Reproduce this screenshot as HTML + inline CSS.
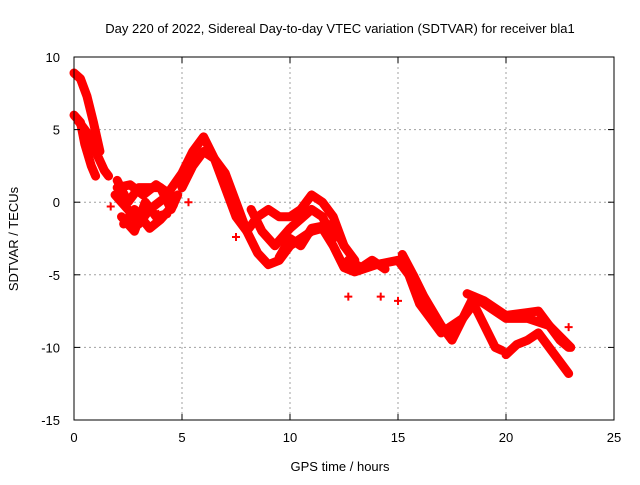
<!DOCTYPE html>
<html><head><meta charset="utf-8"><style>
body{margin:0;background:#fff;}
svg text{font-family:"Liberation Sans",sans-serif;font-size:13px;fill:#000;}
</style></head><body>
<svg width="640" height="480" id="chart">
<rect width="640" height="480" fill="#fff"/>
<text x="340" y="33" text-anchor="middle">Day 220 of 2022, Sidereal Day-to-day VTEC variation (SDTVAR) for receiver bla1</text>
<text x="340" y="471" text-anchor="middle">GPS time / hours</text>
<text transform="translate(18,239) rotate(-90)" text-anchor="middle">SDTVAR / TECUs</text>
<g id="grid"></g><g id="series"></g><g id="axes"></g>
</svg>
<script>
const xTicks=[0,5,10,15,20,25];
const yTicks=[-15,-10,-5,0,5,10];
const trackA=[[0,8.9],[0.3,8.5],[0.6,7.3],[0.9,5.5],[1.2,3.5]];
const trackB=[[0,6],[0.3,5.5],[0.5,4],[0.8,2.5],[1,1.8]];
const trackB2=[[0.2,5.6],[0.6,4.8],[1,3.5],[1.4,2.2],[1.6,1.8]];
const trackC1=[[1.9,0.5],[2.5,-0.5],[3,-1.5],[3.5,-0.5],[4.2,0.3],[5,2],[5.5,3.5],[6,4.5],[6.5,3],[7,2],[7.5,0],[8,-2],[8.5,-3.5],[9,-4.3],[9.5,-4],[10,-3],[10.5,-2.5],[11,-2],[11.5,-1.8],[12,-3],[12.5,-4.5],[13,-4.8],[14,-4.3],[15,-4],[15.5,-5],[16,-7],[16.5,-8],[17,-9],[17.5,-8.5],[18,-8],[18.5,-6.5],[19,-7],[19.5,-7.5],[20,-8],[21,-8],[22,-8.5],[23,-10]];
const trackC2=[[5,1],[5.5,2.5],[6,3.5],[6.5,3],[7,1],[7.5,-1],[8,-2],[8.5,-1],[9,-0.5],[9.5,-1],[10,-1],[10.5,-0.5],[11,0.5],[11.5,0],[12,-1],[12.5,-3],[13,-4]];
const trackC3=[[8.2,-0.5],[8.7,-2],[9.3,-3],[10,-1.8],[11,-0.5],[11.5,-1],[12,-2.5]];
const trackC4=[[9.5,-3.8],[10,-2.5],[10.5,-3],[11,-1.8],[12,-1.5],[12.5,-3]];
const trackN1=[[2,1.5],[2.5,0],[3,1],[3.5,1],[4,1],[4.5,-0.5],[4.8,0.5]];
const trackN2=[[2.2,-1],[2.8,-2],[3.3,0],[3.8,-1],[4.3,-0.8]];
const trackN3=[[2,1],[2.6,1.2],[3.2,0.5],[3.8,1.2],[4.5,0.5]];
const trackN4=[[2.3,-1.5],[2.8,-0.5],[3.5,-1.8],[4,-1.2],[4.6,-0.2]];
const trackE=[[12.7,-4],[13.3,-4.5],[13.8,-4],[14.4,-4.6]];
const trackD1=[[15.2,-3.6],[15.7,-5],[16.2,-6.5],[17,-8.5],[17.5,-9.5],[18,-8],[18.5,-7],[19,-8.5],[19.5,-10],[19.8,-10.2]];
const trackD2=[[20,-10.5],[20.5,-9.8],[21,-9.5],[21.5,-9],[22,-10],[22.5,-11],[22.9,-11.8]];
const trackD3=[[18.2,-6.3],[19,-6.8],[20,-7.8],[21,-7.6],[21.5,-7.5],[22,-8.5],[22.5,-9.5],[22.9,-10]];
const tracks=[trackA,trackB,trackB2,trackC1,trackC2,trackC3,trackC4,trackN1,trackN2,trackN3,trackN4,trackE,trackD1,trackD2,trackD3];
const strays=[[1.7,-0.3],[3.9,-0.8],[7.5,-2.4],[12.7,-6.5],[14.2,-6.5],[15,-6.8],[22.9,-8.6],[5.3,0]];
const X0=74,X1=614,Y0=420,Y1=57;
const xs=v=>X0+(v-0)/(25-0)*(X1-X0);
const ys=v=>Y0-(v+15)/(25)*(Y0-Y1);
const NS='http://www.w3.org/2000/svg';
const mk=(t,a,p)=>{const e=document.createElementNS(NS,t);for(const k in a)e.setAttribute(k,a[k]);p.appendChild(e);return e;};
const grid=document.getElementById('grid'),axes=document.getElementById('axes'),ser=document.getElementById('series');
xTicks.forEach(t=>{
 if(t>0&&t<25){const l=mk('line',{x1:xs(t),x2:xs(t),y1:Y1,y2:Y0,stroke:'#a0a0a0','stroke-dasharray':'2,3'},grid);
 
 }
 const tl=mk('text',{x:xs(t),y:Y0+22,'text-anchor':'middle'},axes);tl.textContent=t;
 
 
 mk('line',{x1:xs(t),x2:xs(t),y1:Y0,y2:Y0-6,stroke:'#000'},axes);
 mk('line',{x1:xs(t),x2:xs(t),y1:Y1,y2:Y1+6,stroke:'#000'},axes);
});
yTicks.forEach(t=>{
 if(t>-15&&t<10){const l=mk('line',{x1:X0,x2:X1,y1:ys(t),y2:ys(t),stroke:'#a0a0a0','stroke-dasharray':'2,3'},grid);
 
 }
 const tl=mk('text',{x:X0-14,y:ys(t)+5,'text-anchor':'end'},axes);tl.textContent=t;
 
 
 mk('line',{x1:X0,x2:X0+6,y1:ys(t),y2:ys(t),stroke:'#000'},axes);
 mk('line',{x1:X1,x2:X1-6,y1:ys(t),y2:ys(t),stroke:'#000'},axes);
});
const fr=mk('rect',{x:X0,y:Y1,width:X1-X0,height:Y0-Y1,fill:'none',stroke:'#000'},axes);


tracks.forEach(tr=>{
 const p=mk('polyline',{points:tr.map(d=>xs(d[0])+','+ys(d[1])).join(' '),fill:'none',stroke:'#ff0000','stroke-width':9,'stroke-linejoin':'round','stroke-linecap':'round'},ser);
 
 
});
strays.forEach(d=>{
 const p=mk('path',{d:`M${xs(d[0])-4},${ys(d[1])}h8M${xs(d[0])},${ys(d[1])-4}v8`,stroke:'#ff0000','stroke-width':2},ser);
 
 
});
</script>
</body></html>
